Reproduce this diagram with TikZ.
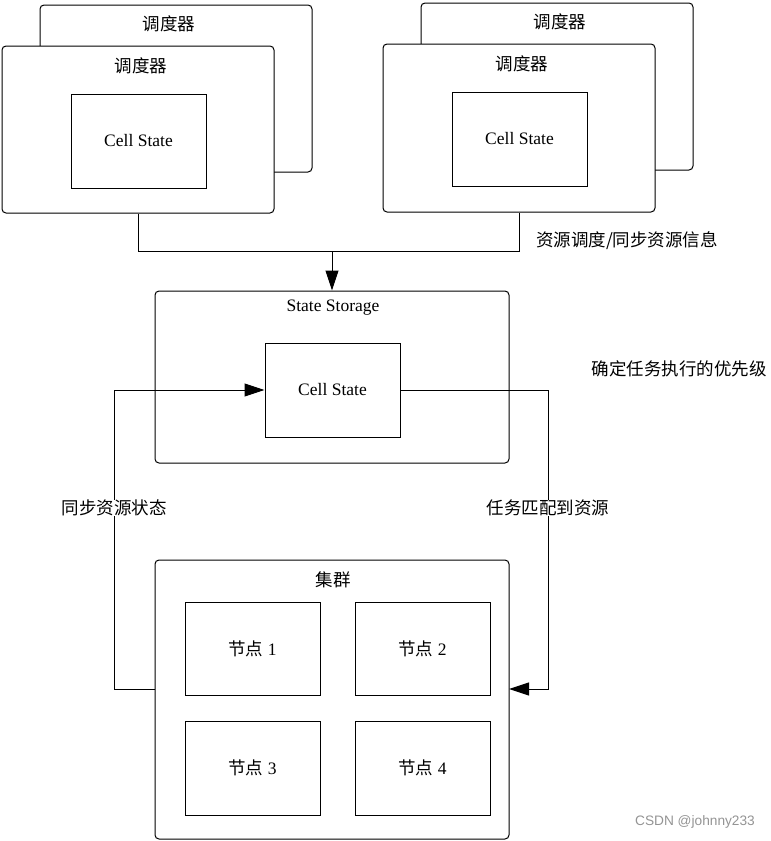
\documentclass[tikz,border=0pt]{standalone}
\usepackage{fontspec}
\setmainfont{Liberation Serif}
\newfontfamily\cjk{Noto Sans CJK SC}
\newfontfamily\markfont{Liberation Sans}
\usetikzlibrary{arrows.meta}
\tikzset{
  panel/.style={draw, rounded corners=4pt, fill=white, inner sep=0pt, line width=1pt},
  cellbox/.style={draw, fill=white, inner sep=0pt, line width=1pt, minimum width=135, minimum height=94},
  tag/.style={inner sep=1pt, font=\cjk\fontsize{17.5}{21}\selectfont},
  linetag/.style={tag, fill=white, inner sep=0pt},
  flow/.style={line width=1pt, -{Triangle[length=20pt, width=13pt]}}
}
\newcommand\cellstate{Cell State}

\begin{document}
\begin{tikzpicture}[x=1pt, y=-1pt, font=\fontsize{17.5}{21}\selectfont]
  \useasboundingbox (0,0) rectangle (771,841);

  % 左边的调度器
  \node[panel, minimum width=272, minimum height=167] (lschedback) at (176,88.5) {};
  \node[tag] (lbacktitle) at (169,24) {调度器};
  \node[panel, minimum width=272, minimum height=167] (lsched) at (138,129.5) {};
  \node[tag] (ltitle) at (141,66) {调度器};
  \node[cellbox] (lcell) at (138.5,141) {\cellstate};

  % 右边的调度器
  \node[panel, minimum width=272, minimum height=167] (rschedback) at (557,86.5) {};
  \node[tag] (rbacktitle) at (560,22) {调度器};
  \node[panel, minimum width=272, minimum height=168] (rsched) at (519,128) {};
  \node[tag] (rtitle) at (522,64) {调度器};
  \node[cellbox] (rcell) at (519.5,139) {\cellstate};

  % State Storage
  \node[panel, minimum width=354, minimum height=172] (storage) at (332,377) {};
  \node (stitle) at (333,308) {State Storage};
  \node[cellbox] (scell) at (332.5,390) {\cellstate};

  % 集群
  \node[panel, minimum width=354, minimum height=279] (cluster) at (332,699.5) {};
  \node[tag] (ctitle) at (333,580) {集群};
  \node[cellbox, minimum height=93] (node1) at (252.5,648.5) {{\cjk 节点} 1};
  \node[cellbox, minimum height=93] (node2) at (422.5,648.5) {{\cjk 节点} 2};
  \node[cellbox] (node3) at (252.5,768) {{\cjk 节点} 3};
  \node[cellbox] (node4) at (422.5,768) {{\cjk 节点} 4};

  % 连线
  \coordinate (join) at (332,251);
  \coordinate (syncout) at (155,689);
  \coordinate (taskin) at (509,689);
  \draw[line width=1pt] (lsched.south) |- (join);
  \draw[line width=1pt] (rsched.south) |- (join);
  \draw[flow] (join) -- (storage.north);
  \draw[flow] (syncout) -- ++(-41,0) |- (scell.west);
  \draw[flow] (scell.east) -- ++(148,0) |- (taskin);

  % 文字
  \node[tag] (schedinfo) at (627,241) {资源调度/同步资源信息};
  \node[tag] (priority) at (679,369) {确定任务执行的优先级};
  \node[linetag] (syncstate) at (114,508) {同步资源状态};
  \node[linetag] (taskmatch) at (548,508) {任务匹配到资源};
  \node[font=\markfont\fontsize{13.7}{16}\selectfont, text=black!42] (mark) at (695,822) {CSDN @johnny233};
\end{tikzpicture}
\end{document}
